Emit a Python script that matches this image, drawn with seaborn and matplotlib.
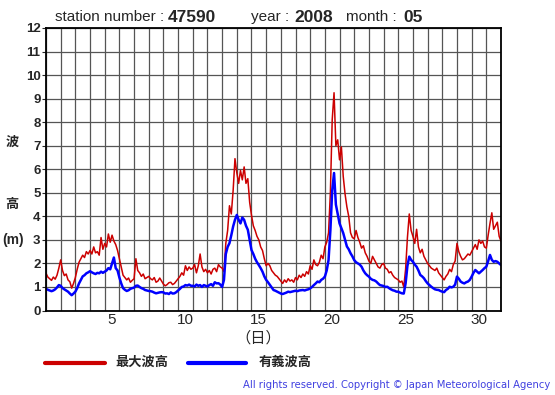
import numpy as np
import pandas as pd
import matplotlib
matplotlib.use("Agg")
import matplotlib.pyplot as plt
import seaborn as sns

# ========== DATOS (3-hourly) ==========
max_wave = [
    1.58, 1.42, 1.35, 1.28, 1.42, 1.33, 1.50, 1.80,
    2.15, 1.70, 1.48, 1.55, 1.30, 1.22, 0.95, 1.15,
    1.40, 1.75, 2.05, 2.20, 2.35, 2.25, 2.50, 2.40,
    2.55, 2.40, 2.70, 2.45, 2.50, 2.35, 3.10, 2.60,
    2.85, 2.70, 3.25, 2.90, 3.20, 2.95, 2.80, 2.55,
    2.20, 1.85, 1.50, 1.40, 1.30, 1.38, 1.20, 1.28,
    1.35, 2.20, 1.70, 1.60, 1.45, 1.55, 1.35, 1.40,
    1.45, 1.35, 1.30, 1.40, 1.20, 1.25, 1.38, 1.25,
    1.12, 1.05, 1.10, 1.18, 1.20, 1.10, 1.15, 1.25,
    1.35, 1.45, 1.60, 1.50, 1.90, 1.70, 1.85, 1.75,
    1.80, 1.95, 1.60, 1.90, 2.40, 1.85, 1.65, 1.75,
    1.60, 1.70, 1.55, 1.75, 1.80, 1.65, 1.95, 1.85,
    1.80, 1.65, 2.85, 3.40, 4.45, 4.10, 5.10, 6.45,
    5.85, 5.40, 5.95, 5.55, 6.10, 5.40, 5.60, 4.60,
    4.05, 3.60, 3.40, 3.15, 3.00, 2.70, 2.55, 2.20,
    1.90, 2.00, 1.90, 1.70, 1.60, 1.50, 1.45, 1.35,
    1.25, 1.15, 1.30, 1.20, 1.35, 1.25, 1.30, 1.20,
    1.40, 1.30, 1.50, 1.40, 1.55, 1.45, 1.65, 1.55,
    1.90, 1.75, 2.15, 1.95, 1.90, 2.05, 2.35, 2.20,
    2.70, 2.90, 3.30, 5.00, 8.10, 9.25, 7.00, 7.25,
    6.40, 6.95, 5.70, 4.95, 4.40, 4.00, 3.30, 3.10,
    3.05, 3.40, 3.10, 2.90, 2.65, 2.75, 2.45, 2.30,
    2.10, 2.00, 2.30, 2.15, 2.00, 1.85, 1.80, 1.95,
    2.00, 1.80, 1.75, 1.60, 1.65, 1.50, 1.40, 1.35,
    1.30, 1.20, 1.25, 1.00, 1.75, 3.10, 4.10, 3.40,
    3.15, 2.85, 3.45, 2.70, 2.45, 2.60, 2.30, 2.15,
    2.00, 1.90, 1.80, 1.75, 1.70, 1.80, 1.60, 1.50,
    1.40, 1.30, 1.45, 1.55, 1.75, 1.65, 1.95, 2.10,
    2.85, 2.50, 2.30, 2.15, 2.20, 2.30, 2.40, 2.35,
    2.50, 2.65, 2.80, 2.60, 3.00, 2.85, 2.95, 2.70,
    2.65, 3.20, 3.70, 4.15, 3.45, 3.60, 3.75, 3.15,
    2.95,
]

sig_wave = [
    0.92, 0.88, 0.85, 0.82, 0.85, 0.90, 0.98, 1.08,
    1.05, 0.95, 0.90, 0.85, 0.80, 0.72, 0.65, 0.72,
    0.80, 0.95, 1.15, 1.30, 1.45, 1.50, 1.58, 1.62,
    1.67, 1.62, 1.58, 1.55, 1.60, 1.58, 1.65, 1.60,
    1.65, 1.70, 1.80, 1.75, 2.00, 2.25, 1.80, 1.70,
    1.40, 1.15, 0.95, 0.88, 0.83, 0.86, 0.92, 0.95,
    0.97, 1.05, 1.06, 1.00, 0.95, 0.92, 0.87, 0.85,
    0.83, 0.82, 0.80, 0.76, 0.73, 0.75, 0.77, 0.78,
    0.77, 0.72, 0.73, 0.70, 0.77, 0.72, 0.73, 0.78,
    0.85, 0.92, 1.00, 1.02, 1.08, 1.06, 1.10, 1.05,
    1.05, 1.02, 1.10, 1.05, 1.08, 1.00, 1.08, 1.05,
    1.02, 1.08, 1.12, 1.05, 1.20, 1.15, 1.16, 1.10,
    1.00, 1.30, 2.40, 2.70, 2.86, 3.20, 3.57, 3.85,
    4.06, 3.85, 3.70, 3.95, 3.85, 3.60, 3.43, 3.00,
    2.57, 2.40, 2.20, 2.05, 1.93, 1.80, 1.65, 1.45,
    1.30, 1.20, 1.09, 0.98, 0.87, 0.84, 0.80, 0.76,
    0.72, 0.70, 0.73, 0.76, 0.80, 0.78, 0.80, 0.82,
    0.84, 0.82, 0.85, 0.86, 0.87, 0.85, 0.88, 0.90,
    0.94, 1.00, 1.08, 1.15, 1.23, 1.20, 1.30, 1.35,
    1.44, 1.70, 2.14, 3.40, 5.10, 5.84, 4.50, 4.10,
    3.70, 3.50, 3.29, 3.00, 2.72, 2.60, 2.43, 2.30,
    2.14, 2.05, 2.00, 1.95, 1.86, 1.70, 1.58, 1.50,
    1.44, 1.35, 1.30, 1.28, 1.23, 1.15, 1.08, 1.06,
    1.04, 1.00, 1.01, 0.95, 0.90, 0.86, 0.84, 0.80,
    0.80, 0.76, 0.73, 0.72, 1.15, 1.90, 2.29, 2.15,
    2.07, 1.95, 1.86, 1.70, 1.51, 1.45, 1.37, 1.25,
    1.15, 1.08, 1.01, 0.95, 0.90, 0.88, 0.87, 0.83,
    0.80, 0.78, 0.87, 0.92, 1.01, 0.98, 1.01, 1.10,
    1.44, 1.35, 1.23, 1.18, 1.15, 1.20, 1.23, 1.30,
    1.44, 1.60, 1.72, 1.65, 1.58, 1.65, 1.72, 1.80,
    1.86, 2.10, 2.36, 2.15, 2.07, 2.10, 2.07, 2.00,
    1.93,
]

day_labels = [5, 10, 15, 20, 25, 30]
y_ticks = list(range(0, 13))

# time axis: day of month, one sample every 3 hours
day = 1 + np.arange(len(max_wave)) / 8.0
df = pd.DataFrame({"day": day, "max": max_wave, "sig": sig_wave})

# ========== ESTILO ==========
sns.set_style("white")
plt.rcParams["font.family"] = ["Liberation Sans", "Noto Sans CJK JP", "DejaVu Sans"]

fig = plt.figure(figsize=(5.55, 3.95), dpi=100)
ax = fig.add_axes([46 / 555, 84.5 / 395, 455 / 555, 282.5 / 395])

sns.lineplot(data=df, x="day", y="max", color="#cc0000", linewidth=1.1, ax=ax)
sns.lineplot(data=df, x="day", y="sig", color="#0000ff", linewidth=1.8, ax=ax)

ax.set_xlim(1, 32)
ax.set_ylim(0, 12)
ax.set_xticks(range(1, 33))
ax.set_xticklabels([])
ax.set_xticks([d + 0.5 for d in day_labels], minor=True)
ax.set_xticklabels([str(d) for d in day_labels], minor=True, fontsize=11)
ax.tick_params(axis="x", which="both", length=0, pad=2)
ax.set_yticks(y_ticks)
ax.set_yticklabels([str(v) for v in y_ticks], fontsize=9.5, fontweight="bold")
ax.tick_params(axis="y", length=3, width=0.8, pad=1, left=True)
ax.grid(True, color="#555555", linewidth=0.9)
ax.set_axisbelow(True)
for s in ax.spines.values():
    s.set_color("black")
    s.set_linewidth(1.3)
ax.set_xlabel("")
ax.set_ylabel("")

# ========== TEXTOS ==========
def ftx(x, y):
    return x / 555, 1 - y / 395

hy = 17
fig.text(*ftx(55, hy), "station number :", fontsize=11, va="center")
fig.text(*ftx(168, hy), "47590", fontsize=12.5, fontweight="bold", va="center")
fig.text(*ftx(251, hy), "year :", fontsize=11, va="center")
fig.text(*ftx(294, hy), "2008", fontsize=12.5, fontweight="bold", va="center")
fig.text(*ftx(346, hy), "month :", fontsize=11, va="center")
fig.text(*ftx(403, hy), "05", fontsize=12.5, fontweight="bold", va="center")

fig.text(*ftx(12, 143), "波", fontsize=9.5, fontweight="bold", ha="center", va="center")
fig.text(*ftx(12, 205), "高", fontsize=9.5, fontweight="bold", ha="center", va="center")
fig.text(*ftx(13, 240), "(m)", fontsize=10, fontweight="bold", ha="center", va="center")
fig.text(*ftx(258, 338), "（日）", fontsize=11, ha="center", va="center")

# legend drawn by hand
ly = 1 - 363 / 395
fig.add_artist(plt.Line2D([45 / 555, 105 / 555], [ly, ly], color="#cc0000", linewidth=3))
fig.text(*ftx(115, 363), "最大波高", fontsize=9.5, fontweight="bold", va="center")
fig.add_artist(plt.Line2D([188 / 555, 246 / 555], [ly, ly], color="#0000ff", linewidth=3))
fig.text(*ftx(259, 363), "有義波高", fontsize=9.5, fontweight="bold", va="center")

fig.text(*ftx(550, 385), "All rights reserved. Copyright © Japan Meteorological Agency",
         fontsize=7.2, color="#4040e0", ha="right", va="center",
         family="DejaVu Sans")

fig.savefig("out.png", dpi=100)
